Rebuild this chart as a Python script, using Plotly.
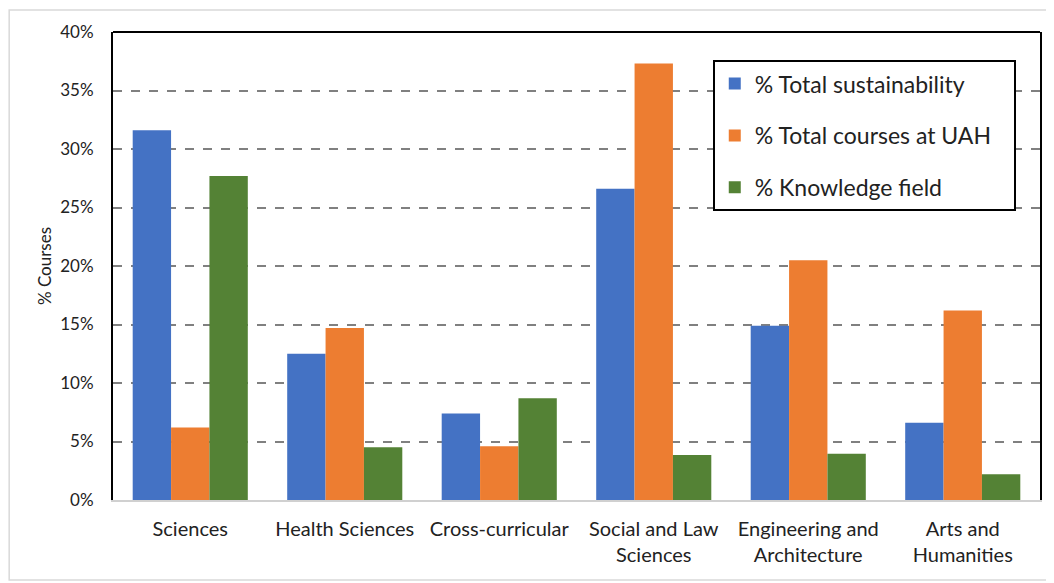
import plotly.graph_objects as go

categories = ["Sciences", "Health Sciences", "Cross-curricular", "Social and Law<br>Sciences",
              "Engineering and<br>Architecture", "Arts and<br>Humanities"]
sustainability = [31.6, 12.5, 7.4, 26.6, 14.9, 6.6]
courses_uah = [6.2, 14.7, 4.6, 37.3, 20.5, 16.2]
knowledge_field = [27.7, 4.5, 8.7, 3.85, 3.95, 2.2]
series_names = ["% Total sustainability", "% Total courses at UAH", "% Knowledge field"]
colors = ["#4472C4", "#ED7D31", "#548235"]
tick_vals = [0, 5, 10, 15, 20, 25, 30, 35, 40]
tick_text = [f"{v}%" for v in tick_vals]

FONT = "Lato, 'Open Sans', sans-serif"

fig = go.Figure()
for i, (name, vals) in enumerate(zip(series_names, [sustainability, courses_uah, knowledge_field])):
    fig.add_trace(go.Bar(
        x=categories, y=vals, name=name + "\u00a0\u00a0\u00a0", legendgroup=f"g{i}",
        marker=dict(color=colors[i], line=dict(width=0)),
    ))

fig.update_layout(
    width=1046, height=575,
    margin=dict(l=105, r=14, t=24, b=83),
    paper_bgcolor="white", plot_bgcolor="white",
    barmode="group", bargap=0.255, bargroupgap=0,
    font=dict(family=FONT, size=17, color="#222"),
    legend=dict(
        x=0.647, y=0.94, xanchor="left", yanchor="top",
        bgcolor="white", bordercolor="black", borderwidth=2,
        font=dict(family=FONT, size=23, color="#222"),
        traceorder="grouped", tracegroupgap=19,
        itemwidth=30,
    ),
    showlegend=True,
)
fig.update_xaxes(
    showline=True, linecolor="#d0d0d0", linewidth=2,
    tickfont=dict(family=FONT, size=20, color="#222"),
    ticks="", showgrid=False, ticklabelstandoff=10,
)
fig.update_yaxes(
    range=[0, 40], tickvals=tick_vals, ticktext=tick_text,
    showline=True, linecolor="black", linewidth=2, mirror=True,
    showgrid=True, gridcolor="#808080", gridwidth=2, griddash="dash",
    zeroline=False, ticks="", ticklabelstandoff=14,
    tickfont=dict(family=FONT, size=17, color="#222"),
    title=dict(text="% Courses", font=dict(family=FONT, size=17, color="#222"), standoff=4),
)
# top border of plot area
fig.add_shape(type="line", xref="paper", yref="paper", x0=0, x1=1, y0=1, y1=1,
              line=dict(color="black", width=2))
# outer light border
fig.add_shape(type="rect", xref="paper", yref="paper", x0=-0.112, x1=1.013, y0=-0.171, y1=1.047,
              line=dict(color="#d9d9d9", width=1.5), layer="below")

fig.write_html("out.html")
